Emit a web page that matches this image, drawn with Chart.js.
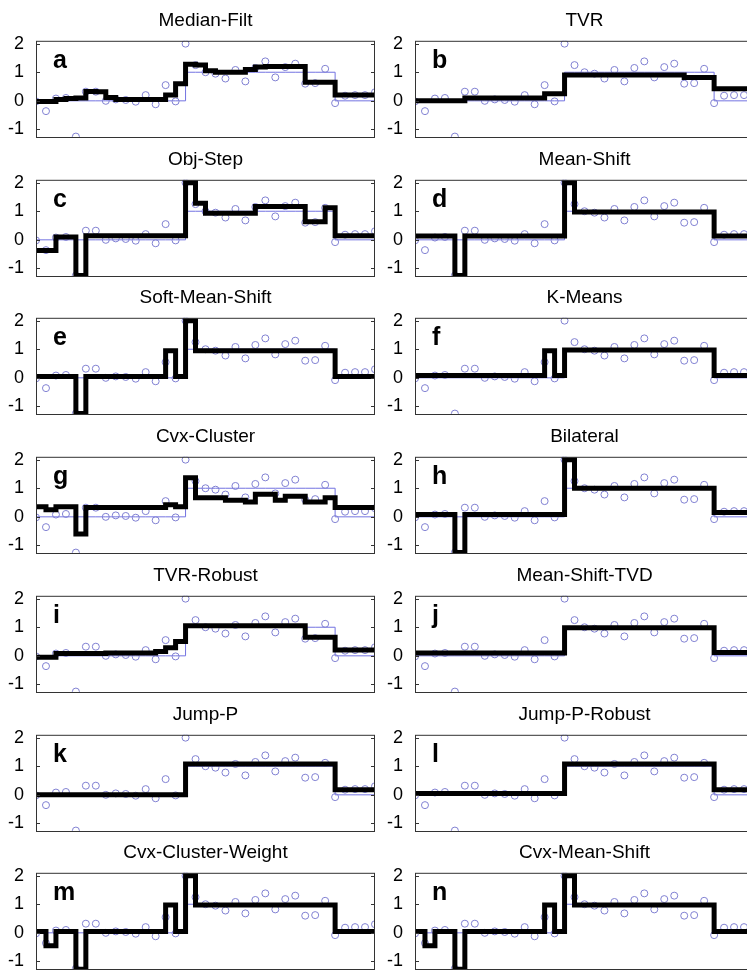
<!DOCTYPE html>
<html>
<head>
<meta charset="utf-8">
<script src="https://cdn.jsdelivr.net/npm/chart.js@4.4.0/dist/chart.umd.min.js"></script>
<style>
  html, body { margin: 0; padding: 0; background: #fff; overflow: hidden; }
  #wrap { position: relative; width: 747px; height: 975px; overflow: hidden; }
  #wrap canvas { position: absolute; }
</style>
</head>
<body>
<div id="wrap"></div>
<script>
/* sample index, noisy samples, true signal */
const samples = [1,2,3,4,5,6,7,8,9,10,11,12,13,14,15,16,17,18,19,20,21,22,23,24,25,26,27,28,29,30,31,32,33,34,35];
const noisy = [-0.02,-0.36,0.08,0.1,-1.25,0.32,0.32,0.0,0.05,0.03,-0.03,0.2,-0.12,0.55,-0.02,2.0,1.25,1.0,0.95,0.78,1.08,0.68,1.15,1.38,0.82,1.18,1.3,0.6,0.62,1.12,-0.08,0.18,0.2,0.2,0.3];
const truth = [0,0,0,0,0,0,0,0,0,0,0,0,0,0,0,1,1,1,1,1,1,1,1,1,1,1,1,1,1,1,0,0,0,0,0];
const yTicks = [-1, 0, 1, 2];

/* filter outputs, one per panel */
const medianFilt = [-0.02,-0.02,0.05,0.08,0.1,0.33,0.32,0.12,0.05,0.05,0.05,0.05,0.05,0.2,0.6,1.28,1.25,1.05,1.0,1.0,1.0,1.1,1.18,1.2,1.2,1.2,1.2,0.65,0.65,0.65,0.2,0.2,0.2,0.2,0.2];
const tvr = [0,0,0,0,0,0.1,0.1,0.1,0.1,0.1,0.1,0.1,0.1,0.25,0.25,0.9,0.9,0.9,0.9,0.9,0.9,0.9,0.9,0.9,0.9,0.9,0.9,0.82,0.82,0.82,0.42,0.42,0.42,0.42,0.42];
const objStep = [-0.37,-0.37,0.1,0.1,-1.25,0.14,0.14,0.14,0.14,0.14,0.14,0.14,0.14,0.14,0.14,2.0,1.28,0.93,0.93,0.93,0.93,0.93,1.17,1.17,1.17,1.17,1.17,0.63,0.63,1.12,0.14,0.14,0.14,0.14,0.14];
const meanShift = [0.13,0.13,0.13,0.13,-1.25,0.13,0.13,0.13,0.13,0.13,0.13,0.13,0.13,0.13,0.13,2.0,0.97,0.97,0.97,0.97,0.97,0.97,0.97,0.97,0.97,0.97,0.97,0.97,0.97,0.97,0.13,0.13,0.13,0.13,0.13];
const softMeanShift = [0.05,0.05,0.05,0.05,-1.25,0.05,0.05,0.05,0.05,0.05,0.05,0.05,0.05,0.95,0.05,2.0,0.95,0.95,0.95,0.95,0.95,0.95,0.95,0.95,0.95,0.95,0.95,0.95,0.95,0.95,0.05,0.05,0.05,0.05,0.05];
const kMeans = [0.08,0.08,0.08,0.08,0.08,0.08,0.08,0.08,0.08,0.08,0.08,0.08,0.08,0.95,0.08,0.97,0.97,0.97,0.97,0.97,0.97,0.97,0.97,0.97,0.97,0.97,0.97,0.97,0.97,0.97,0.08,0.08,0.08,0.08,0.08];
const cvxCluster = [0.35,0.25,0.35,0.35,-0.6,0.33,0.33,0.33,0.33,0.33,0.33,0.33,0.33,0.42,0.35,1.37,0.67,0.67,0.67,0.58,0.58,0.52,0.79,0.79,0.58,0.72,0.72,0.52,0.52,0.67,0.33,0.33,0.33,0.33,0.33];
const bilateral = [0.08,0.08,0.08,0.08,-1.25,0.08,0.08,0.08,0.08,0.08,0.08,0.08,0.08,0.08,0.08,2.0,1.0,1.0,1.0,1.0,1.0,1.0,1.0,1.0,1.0,1.0,1.0,1.0,1.0,1.0,0.15,0.15,0.15,0.15,0.15];
const tvrRobust = [-0.05,-0.05,0.08,0.08,0.08,0.08,0.08,0.1,0.1,0.1,0.1,0.1,0.15,0.28,0.5,1.05,1.05,1.05,1.05,1.05,1.05,1.05,1.05,1.05,1.05,1.05,1.05,0.65,0.65,0.65,0.2,0.2,0.2,0.2,0.2];
const meanShiftTvd = [0.1,0.1,0.1,0.1,0.1,0.1,0.1,0.1,0.1,0.1,0.1,0.1,0.1,0.1,0.1,0.98,0.98,0.98,0.98,0.98,0.98,0.98,0.98,0.98,0.98,0.98,0.98,0.98,0.98,0.98,0.12,0.12,0.12,0.12,0.12];
const jumpP = [0,0,0,0,0,0,0,0,0,0,0,0,0,0,0,1.08,1.08,1.08,1.08,1.08,1.08,1.08,1.08,1.08,1.08,1.08,1.08,1.08,1.08,1.08,0.18,0.18,0.18,0.18,0.18];
const jumpPRobust = [0.05,0.05,0.05,0.05,0.05,0.05,0.05,0.05,0.05,0.05,0.05,0.05,0.05,0.05,0.05,1.08,1.08,1.08,1.08,1.08,1.08,1.08,1.08,1.08,1.08,1.08,1.08,1.08,1.08,1.08,0.18,0.18,0.18,0.18,0.18];
const cvxClusterWeight = [0.05,-0.45,0.05,0.05,-1.27,0.05,0.05,0.05,0.05,0.05,0.05,0.05,0.05,0.97,0.05,2.0,0.97,0.97,0.97,0.97,0.97,0.97,0.97,0.97,0.97,0.97,0.97,0.97,0.97,0.97,0.05,0.05,0.05,0.05,0.05];
const cvxMeanShift = [0.05,-0.45,0.05,0.05,-1.27,0.05,0.05,0.05,0.05,0.05,0.05,0.05,0.05,0.97,0.05,2.0,0.97,0.97,0.97,0.97,0.97,0.97,0.97,0.97,0.97,0.97,0.97,0.97,0.97,0.97,0.05,0.05,0.05,0.05,0.05];

const titles = ['Median-Filt','TVR','Obj-Step','Mean-Shift','Soft-Mean-Shift','K-Means','Cvx-Cluster','Bilateral','TVR-Robust','Mean-Shift-TVD','Jump-P','Jump-P-Robust','Cvx-Cluster-Weight','Cvx-Mean-Shift'];
const letters = ['a','b','c','d','e','f','g','h','i','j','k','l','m','n'];
const outputs = [medianFilt, tvr, objStep, meanShift, softMeanShift, kMeans, cvxCluster, bilateral, tvrRobust, meanShiftTvd, jumpP, jumpPRobust, cvxClusterWeight, cvxMeanShift];

/* box, inner ticks and panel letter */
const frame = {
  id: 'frame',
  afterDatasetsDraw(chart, args, opts) {
    const { ctx, chartArea: { left, right, top, bottom }, scales: { y } } = chart;
    ctx.save();
    ctx.strokeStyle = '#333';
    ctx.lineWidth = 1;
    ctx.strokeRect(left + 0.5, top + 0.5, right - left - 1, bottom - top - 1);
    ctx.beginPath();
    yTicks.forEach((v) => {
      const py = Math.round(y.getPixelForValue(v)) + 0.5;
      ctx.moveTo(left, py); ctx.lineTo(left + 4, py);
      ctx.moveTo(right, py); ctx.lineTo(right - 4, py);
    });
    ctx.stroke();
    ctx.font = 'bold 25px Arial';
    ctx.fillStyle = '#000';
    ctx.textBaseline = 'alphabetic';
    ctx.fillText(opts.letter, left + 17, top + 27);
    ctx.restore();
  }
};

const wrap = document.getElementById('wrap');
const rowStep = 138.7;

titles.forEach((title, k) => {
  const row = Math.floor(k / 2);
  const col = k % 2;
  const canvas = document.createElement('canvas');
  canvas.width = 380;
  canvas.height = 143;
  canvas.style.width = '380px';
  canvas.style.height = '143px';
  canvas.style.left = (col === 0 ? 0 : 379) + 'px';
  canvas.style.top = Math.round(row * rowStep) + 'px';
  wrap.appendChild(canvas);

  const toXY = (arr) => arr.map((v, i) => ({ x: samples[i], y: v }));

  new Chart(canvas, {
    type: 'line',
    data: {
      datasets: [
        {
          data: toXY(outputs[k]),
          borderColor: '#000',
          borderWidth: 5,
          stepped: 'before',
          pointRadius: 0,
          borderJoinStyle: 'miter',
          fill: false,
          order: 0
        },
        {
          data: toXY(noisy),
          showLine: false,
          pointRadius: 3.5,
          pointBorderWidth: 1,
          pointBorderColor: 'rgb(128,128,210)',
          pointBackgroundColor: 'rgba(0,0,0,0)',
          order: 1
        },
        {
          data: toXY(truth),
          borderColor: 'rgb(115,115,225)',
          borderWidth: 1,
          stepped: 'before',
          pointRadius: 0,
          fill: false,
          order: 2
        }
      ]
    },
    options: {
      responsive: false,
      animation: false,
      devicePixelRatio: 1,
      layout: { padding: { right: 4, bottom: 3 } },
      scales: {
        x: { type: 'linear', min: 1, max: 35, display: false },
        y: {
          min: -1.3,
          max: 2.1,
          afterBuildTicks: (s) => { s.ticks = yTicks.map((v) => ({ value: v })); },
          afterFit: (s) => { s.width = 36; s.paddingTop = 0; s.paddingBottom = 0; },
          ticks: { font: { family: 'Arial', size: 18 }, color: '#000', padding: 4 },
          grid: { display: false },
          border: { display: false }
        }
      },
      plugins: {
        legend: { display: false },
        tooltip: { enabled: false },
        title: {
          display: true,
          text: title,
          fullSize: false,
          color: '#000',
          font: { family: 'Arial', size: 19, weight: 'normal' },
          padding: { top: 9, bottom: 9 }
        },
        frame: { letter: letters[k] }
      }
    },
    plugins: [frame]
  });
});
</script>
</body>
</html>
